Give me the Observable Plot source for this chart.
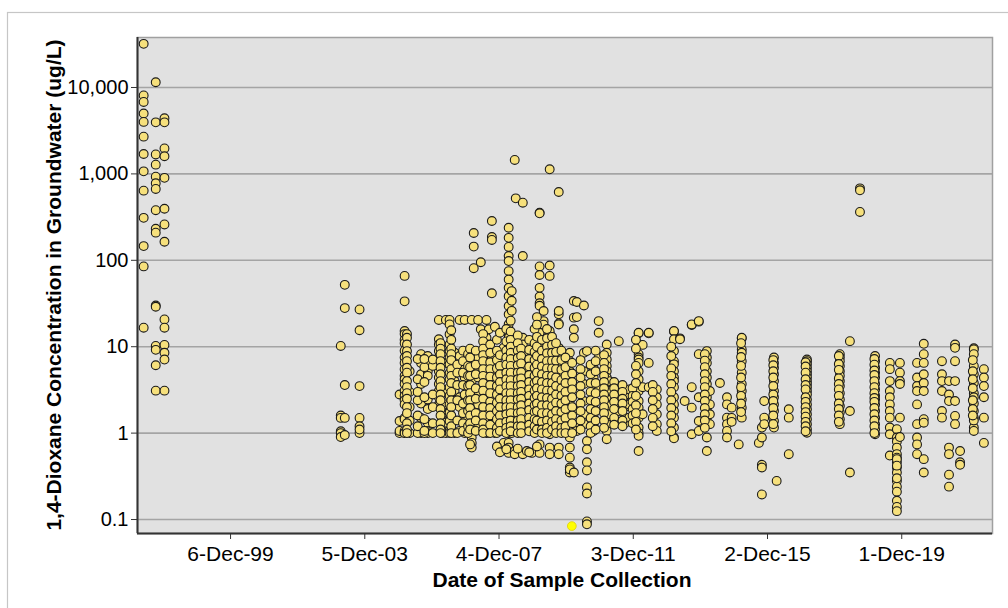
<!DOCTYPE html>
<html>
<head>
<meta charset="utf-8">
<script src="https://cdn.jsdelivr.net/npm/d3@7"></script>
<script src="https://cdn.jsdelivr.net/npm/@observablehq/plot@0.6"></script>
<style>
  html, body { margin: 0; padding: 0; background: #ffffff; }
  #chart { width: 1008px; height: 608px; }
</style>
</head>
<body>
<div id="chart"></div>
<script>
// ---- Data ----
// Sampling events as decimal years; each has a list of 1,4-dioxane concentrations (ug/L)
const sampleYears = [
  1997.34, 1997.70, 1997.96,
  2003.21, 2003.33, 2003.77,
  2004.96, 2005.11, 2005.26, 2005.60, 2005.80,
  2006.13, 2006.22, 2006.34, 2006.45, 2006.60, 2006.75, 2006.90,
  2007.11, 2007.17, 2007.30, 2007.38, 2007.55, 2007.62, 2007.71, 2007.80,
  2008.06, 2008.21, 2008.30, 2008.39, 2008.42, 2008.63, 2008.75, 2008.90,
  2009.13, 2009.25, 2009.43, 2009.70,
  2010.03, 2010.15, 2010.24, 2010.45, 2010.54, 2010.74, 2010.89,
  2011.13, 2011.20, 2011.49, 2011.67, 2011.80,
  2012.08, 2012.20, 2012.38, 2012.62,
  2013.13, 2013.31, 2013.45, 2013.66, 2013.87,
  2014.11, 2014.20, 2014.50, 2014.71, 2014.85,
  2015.06, 2015.15, 2015.66, 2015.75, 2015.82,
  2016.11, 2016.19, 2016.55,
  2017.09, 2018.07, 2018.37, 2018.67,
  2019.12, 2019.56, 2019.77, 2019.86,
  2020.37, 2020.57, 2021.11, 2021.32, 2021.50, 2021.65, 2022.06, 2022.36,
  // additional overlapping sampling rounds in the dense period
  2005.18, 2005.50, 2005.70, 2005.95, 2006.18, 2006.50, 2006.68, 2006.85,
  2007.00, 2007.06, 2007.23, 2007.45, 2007.66, 2007.86, 2007.95,
  2008.14, 2008.27, 2008.48, 2008.58, 2008.82, 2008.98,
  2009.05, 2009.20, 2009.35, 2009.50, 2009.62, 2009.78, 2009.90,
  2010.10, 2010.35, 2010.65, 2010.80,
  2011.05, 2011.35, 2011.60, 2011.90, 2012.00, 2012.50, 2013.05, 2014.05,
  2015.13, 2016.09, 2017.05, 2018.04, 2019.10, 2022.03
];
const concentrations = [
  [32000, 8100, 6800, 5000, 4000, 2700, 1700, 1070, 640, 310, 146, 85, 16.6],
  [11500, 3950, 1680, 1280, 930, 780, 670, 380, 232, 209, 30, 29, 10.2, 9.2, 6.1, 3.1],
  [4400, 3950, 1970, 1600, 900, 395, 260, 164, 20.7, 16.6, 10.5, 8.5, 7.1, 3.1],
  [10.2, 1.6, 1.5, 1.05, 1.0, 0.9],
  [52, 28, 3.6, 1.5, 0.95],
  [27, 15.5, 3.5, 1.5, 1.2, 1.0, 1.1],
  [1.0, 1.38, 2.8, 1.06],
  [66, 33.5, 15.2, 14, 12, 11, 9, 7.5, 6.5, 5.5, 4.6, 4.2, 3.7, 3.1, 2.7, 2.4, 2.15, 1.5, 1.45, 1.06, 1.0, 1.0],
  [1.0, 1.4, 5.2, 3.0, 2.0],
  [8.2, 6.5, 4.8, 3.7, 2.2, 1.5, 1.06, 1.0],
  [7.8, 6.5, 5.2, 4.6, 2.45, 1.9, 1.32, 1.05, 1.0],
  [20.4, 12.2, 10.6, 8.9, 7.5, 6.25, 5.2, 4.4, 3.7, 3.07, 2.6, 2.15, 2.06],
  [1.51, 1.06, 1.65, 2.0, 1.0],
  [20.4, 6.5, 3.07, 2.15, 1.0, 1.32],
  [20.4, 18.1, 13.9, 10.6, 8.9, 7.5, 6.25, 4.95, 4.2, 3.4, 2.7, 2.15, 1.73, 1.38, 1.06, 1.0],
  [4.0, 3.07, 1.0, 8.5],
  [20.4, 7.8, 5.7, 2.6, 2.0, 1.06],
  [5.7, 4.4, 2.8, 1.51, 1.0, 20.4],
  [20.4, 8.9, 6.8, 5.2, 4.0, 3.07, 2.6, 2.15, 1.8, 1.51, 1.06, 0.89, 0.77, 0.68],
  [207, 144, 81],
  [7.5, 5.7, 4.4, 3.07, 2.15, 1.27, 20.4],
  [95, 15.9],
  [20.4, 12.7, 10.6, 8.9, 7.5, 6.0, 5.0, 4.2, 3.4, 2.7, 2.15, 1.73, 1.38, 1.06, 1.0],
  [15.9, 1.0],
  [285, 186, 172, 41.5, 7.5, 5.2, 3.7, 2.6, 1.8, 1.06],
  [17, 1.0, 3.07],
  [9.7, 4.8, 3.07, 1.51, 1.06, 0.77],
  [238, 182, 143, 112, 98, 75, 60, 48, 38.5, 29.6, 23.7, 18.2, 14.3, 12.7, 11, 9.5, 8.2, 7.1, 6.1, 5.2, 4.5, 3.8, 3.3, 2.8, 2.45, 2.1, 1.8, 1.55, 1.3, 1.1, 1.0, 0.77, 0.68, 0.59],
  [44, 34, 26, 1.0, 4.0],
  [1450, 8.2, 4.4, 2.35, 1.06, 0.62, 0.57],
  [521],
  [464, 112, 12.7, 10.6, 8.2, 6.5, 5.2, 4.2, 3.4, 2.9, 2.35, 1.89, 1.38, 1.06, 0.57],
  [8.9, 5.7, 3.7, 2.15, 1.16, 0.62],
  [1.06, 0.59, 3.0],
  [356, 350, 85, 67.6, 48, 38, 31.8, 29.8, 14.3, 14.5, 11.6, 9.7, 8.2, 6.8, 5.5, 4.4, 3.7, 3.07, 2.6, 2.06, 1.73, 1.51, 1.27, 0.74, 0.59],
  [19.8, 18, 25.9],
  [1130, 87, 66, 14.3, 15.2, 11.6, 9.3, 7.5, 6.25, 5.2, 4.0, 3.4, 2.8, 2.35, 1.89, 1.51, 1.16, 0.97, 0.68, 0.57],
  [617, 23.7, 18.6, 25.9, 18.1, 9.7, 7.5, 5.7, 4.4, 3.07, 2.6, 1.97, 1.38, 1.06, 0.68, 0.57],
  [8.5, 6.8, 5.2, 4.4, 3.7, 3.07, 2.35, 1.8, 1.51, 1.27, 0.89, 0.68, 0.52, 0.40, 0.35, 0.38],
  [15.9, 12.7, 33.8, 21.7, 1.8, 1.16, 0.35],
  [32.9, 22, 1.16, 1.06],
  [30, 8.5, 5.2, 3.7, 2.35, 1.65, 1.27],
  [8.9, 0.81, 0.65, 0.46, 0.37, 0.235, 0.2, 0.095, 0.088],
  [5.7, 4.4, 3.07, 2.15, 1.65, 1.27, 1.06],
  [19.8, 14.5, 7.5, 3.4],
  [10.6, 8.5, 7.1, 6.0, 5.2, 4.4, 3.7, 3.07, 2.6, 2.15, 1.8, 1.51, 1.27, 1.06, 0.85],
  [4.0, 3.07, 2.06, 1.65],
  [11.6, 3.4, 3.07, 2.6, 2.15, 1.8],
  [3.2, 2.7, 2.0, 1.5, 1.3],
  [2.8, 2.15, 1.51, 3.2],
  [14.3, 14.5, 10.6, 8.2, 7.5, 7.1, 6.5, 5.2, 4.2, 3.4, 3.07, 2.35, 1.97, 1.51, 1.16, 1.0, 0.93, 0.62],
  [3.4, 1.65, 10.5],
  [14.3, 14.5, 6.5, 3.4],
  [3.2, 2.6, 2.15, 1.65, 1.27, 1.06],
  [15, 15.2, 12.2, 8.9, 6.8, 6.25, 5.2, 4.4, 4.0, 3.4, 2.6, 2.15, 1.8, 1.51, 1.16, 0.89, 0.87],
  [12.5, 12.2],
  [2.35],
  [17.8, 18.1, 3.4, 1.97, 0.97],
  [19.5, 19.8, 8.2, 2.6, 1.38, 1.06],
  [8.9, 7.5, 6.5, 5.2, 4.4, 3.7, 3.07, 2.6, 2.15, 1.8, 1.51, 1.27, 0.89, 0.62],
  [3.07, 2.15, 1.65, 1.27],
  [3.8],
  [2.6, 2.15, 1.51, 1.27, 1.06, 0.89],
  [1.97, 1.5, 1.35],
  [0.74],
  [12.5, 12.7, 9.3, 8.5, 6.8, 5.0, 3.7, 3.07, 2.45, 1.97, 1.51],
  [0.77],
  [1.16, 0.89, 0.43, 0.40, 0.195],
  [2.35, 1.51, 1.27],
  [7.5, 6.5, 5.7, 4.8, 4.0, 3.07, 2.6, 2.15, 1.8, 1.38, 1.16],
  [0.28],
  [1.89, 1.51, 0.57],
  [7.1, 6.8, 6.25, 5.7, 5.2, 4.8, 4.4, 4.0, 3.7, 3.4, 3.07, 2.8, 2.45, 2.15, 1.89, 1.65, 1.45, 1.27, 1.11, 1.01],
  [8.2, 7.5, 6.8, 6.0, 5.2, 4.6, 4.0, 3.5, 2.9, 2.45, 2.06, 1.73, 1.45, 1.27],
  [11.6, 1.8, 0.35],
  [680, 646, 363],
  [7.8, 6.8, 5.7, 5.0, 4.4, 3.7, 3.2, 2.7, 2.45, 2.15, 1.8, 1.51, 1.27, 1.11, 0.97],
  [6.5, 5.5, 4.0, 3.07, 2.6, 2.15, 1.8, 1.51, 1.16, 0.97, 0.55],
  [1.11, 0.89, 0.8, 0.68, 0.57, 0.52, 0.46, 0.40, 0.35, 0.28, 0.24, 0.21, 0.165, 0.14, 0.125, 0.5, 0.42, 0.3],
  [6.5, 5.0, 4.0, 3.7, 1.51, 0.9],
  [6.5, 4.4, 3.5, 3.07, 2.15, 1.27, 0.89, 0.74, 0.57],
  [10.8, 8.2, 6.5, 4.8, 3.8, 3.07, 1.45, 1.32, 0.50, 0.35],
  [6.8, 4.8, 4.0, 3.07, 1.8, 1.51],
  [4.0, 2.8, 2.35, 0.68, 0.57, 0.33, 0.24],
  [10.6, 9.7, 6.8, 4.0, 2.35, 1.58, 1.27],
  [0.62, 0.46, 0.43],
  [9.6, 9.3, 8.2, 6.0, 4.8, 3.8, 2.9, 2.2, 1.8, 1.51, 1.16, 1.06, 2.6, 1.4],
  [5.5, 4.4, 3.5, 2.6, 1.51, 0.77],
  // additional overlapping sampling rounds
  [14, 12.7, 10.6, 8.9, 7.8, 6.8, 5.7, 5.0, 4.0, 3.4, 2.9, 2.5, 2.0, 1.7, 1.3, 1.1, 1.0],
  [1.0, 1.2, 1.6, 2.4, 3.0, 4.2, 7.2],
  [1.0, 1.06, 1.45, 2.6, 3.9, 5.8, 7.2],
  [1.0, 1.3, 2.0, 2.8, 6.0, 7.1],
  [11, 9.5, 8.2, 6.8, 5.7, 4.8, 4.0, 3.4, 2.8, 2.4, 1.9, 1.6, 1.3, 1.1, 1.0],
  [15.5, 12, 9.5, 8.2, 7.0, 5.5, 4.6, 3.8, 3.0, 2.4, 2.0, 1.6, 1.2, 1.0],
  [6.2, 5.0, 3.6, 2.4, 1.4, 1.0],
  [9.0, 6.8, 5.0, 3.6, 2.2, 1.7, 1.3, 1.06],
  [8.2, 6.0, 4.6, 3.5, 2.4, 1.8, 1.2, 1.0],
  [9.5, 7.5, 5.8, 4.6, 3.6, 2.9, 2.4, 1.95, 1.6, 1.3, 1.1, 0.74],
  [9, 6.2, 4.8, 3.3, 2.5, 1.7, 1.4, 1.06],
  [14, 11.5, 9.5, 8, 6.8, 5.5, 4.6, 3.8, 3.1, 2.5, 2.0, 1.6, 1.3, 1.1, 1.0],
  [10.6, 8.5, 6.6, 5.5, 4.5, 3.6, 2.9, 2.3, 1.95, 1.6, 1.25, 1.0],
  [12, 9.0, 7.0, 5.6, 4.4, 3.5, 2.8, 2.25, 1.8, 1.45, 1.15, 1.0, 0.7],
  [14.5, 8, 6, 4.8, 3.9, 3.2, 2.5, 2.0, 1.6, 1.3, 1.06, 0.6],
  [16, 11.5, 9, 7.5, 6.2, 5, 4.2, 3.5, 2.9, 2.4, 2.0, 1.65, 1.35, 1.15, 1.0, 0.65],
  [20, 15, 12, 10, 8.5, 7.2, 6.0, 5.0, 4.1, 3.5, 2.9, 2.4, 2.0, 1.7, 1.4, 1.2, 1.05],
  [13.5, 11, 9, 7.4, 6.1, 5.0, 4.2, 3.5, 2.9, 2.45, 2.0, 1.7, 1.4, 1.2, 1.0, 0.66],
  [9.5, 7.8, 6.4, 5.1, 4.3, 3.6, 3.0, 2.5, 2.1, 1.75, 1.45, 1.2, 1.0],
  [12, 9.2, 7.2, 5.9, 4.7, 3.9, 3.2, 2.7, 2.2, 1.85, 1.5, 1.25, 1.05, 0.6],
  [16, 11, 8.7, 7.0, 5.7, 4.6, 3.8, 3.1, 2.55, 2.1, 1.75, 1.45, 1.2, 1.0],
  [22, 18, 13, 10, 7.8, 6.2, 5.0, 4.0, 3.3, 2.7, 2.2, 1.8, 1.4, 1.1, 0.7],
  [12, 9, 7.2, 5.9, 4.8, 3.9, 3.2, 2.6, 2.1, 1.7, 1.35, 1.1, 1.0],
  [16, 12.5, 10, 8.4, 6.8, 5.6, 4.6, 3.8, 3.1, 2.55, 2.1, 1.7, 1.4, 1.15, 1.0],
  [13, 10.5, 8.5, 6.9, 5.6, 4.6, 3.8, 3.1, 2.5, 2.05, 1.65, 1.35, 1.1],
  [11, 8.7, 6.9, 5.5, 4.4, 3.5, 2.8, 2.25, 1.8, 1.45, 1.2, 1.0],
  [9, 7.0, 5.4, 4.1, 3.3, 2.7, 2.2, 1.75, 1.4, 1.15, 1.0],
  [7.5, 5.8, 4.6, 3.8, 3.0, 2.4, 1.9, 1.5, 1.2, 1.0],
  [6.5, 4.9, 3.9, 3.2, 2.6, 2.0, 1.6, 1.3, 1.0],
  [7.0, 5.5, 4.4, 3.5, 2.8, 2.2, 1.8, 1.4, 1.1],
  [6.2, 4.8, 3.8, 3.0, 2.4, 1.9, 1.5, 1.2, 1.0],
  [9.0, 6.8, 5.2, 3.8, 2.9, 2.3, 1.8, 1.4, 1.1],
  [8, 6.5, 5.5, 4.6, 3.9, 3.3, 2.8, 2.4, 2.0, 1.7, 1.4, 1.15],
  [3.9, 3.3, 2.8, 2.3, 1.9, 1.5, 1.25],
  [3.6, 3.0, 2.5, 2.2, 1.8, 1.4, 1.2],
  [3.3, 2.7, 2.3, 1.9, 1.6, 1.3],
  [12, 9.5, 6, 4.8, 3.8, 2.7, 2.1, 1.7, 1.35, 1.1],
  [3.6, 3.0, 2.4, 1.9, 1.5, 1.2],
  [10, 7.8, 5.6, 4.6, 3.7, 3.0, 2.4, 1.95, 1.6, 1.3, 1.05],
  [8.2, 6.9, 5.8, 4.8, 4.0, 3.4, 2.8, 2.35, 1.95, 1.65, 1.4, 1.15],
  [11, 7.6, 6.0, 4.4, 3.4, 2.7, 2.2, 1.75],
  [7.0, 6.1, 5.2, 4.4, 3.5, 2.8, 2.35, 1.95, 1.6, 1.27],
  [6.6, 5.9, 5.0, 4.2, 3.6, 3.2, 2.6, 2.3, 2.0, 1.75, 1.55, 1.35, 1.2, 1.05],
  [7.8, 6.3, 5.4, 4.3, 3.7, 3.2, 2.7, 2.2, 1.9, 1.6, 1.35],
  [7.2, 6.2, 5.3, 4.7, 4.0, 3.4, 2.9, 2.55, 2.3, 1.95, 1.65, 1.4, 1.2, 1.0],
  [7.0, 5.2, 4.2, 3.3, 2.4, 1.9, 1.6]
];
// The single highlighted (bright yellow) sample
const highlightYears = [2010.09];
const highlightValues = [0.084];

// Axis ticks
const yTickValues = [0.1, 1, 10, 100, 1000, 10000];
const xTickDates = ["1999-12-06", "2003-12-05", "2007-12-04", "2011-12-03", "2015-12-02", "2019-12-01"];

const xTitle = "Date of Sample Collection";
const yTitle = "1,4-Dioxane Concentration in Groundwater (ug/L)";

// ---- Build table ----
function yearToDate(y) {
  const yr = Math.floor(y);
  const s = Date.UTC(yr, 0, 1), e = Date.UTC(yr + 1, 0, 1);
  return new Date(s + (y - yr) * (e - s));
}
const samples = [];
sampleYears.forEach((yr, i) => {
  concentrations[i].forEach(v => samples.push({date: yearToDate(yr), value: v}));
});
const highlight = highlightYears.map((yr, i) => ({date: yearToDate(yr), value: highlightValues[i]}));

const xDomain = [new Date("1997-02-27"), new Date("2022-08-14")];
const yDomain = [0.0689, 37900];
const font = "'Liberation Sans', Arial, Helvetica, sans-serif";

const chart = Plot.plot({
  width: 1008,
  height: 608,
  marginLeft: 137,
  marginRight: 16,
  marginTop: 37,
  marginBottom: 75,
  style: {fontFamily: font, fontSize: "20px", color: "#000", background: "transparent", overflow: "visible"},
  x: {type: "utc", domain: xDomain},
  y: {type: "log", domain: yDomain},
  marks: [
    Plot.frame({fill: "#e1e1e1", stroke: null}),
    Plot.ruleY(yTickValues, {stroke: "#a4a4a4", strokeWidth: 1.6}),
    Plot.frame({stroke: "#a0a0a0", strokeWidth: 1.5}),
    Plot.ruleX([xDomain[0]], {stroke: "#333", strokeWidth: 2}),
    Plot.ruleY([yDomain[0]], {stroke: "#333", strokeWidth: 2}),
    Plot.axisY({ticks: yTickValues, tickFormat: d3.format(","), tickSize: 6, tickPadding: 3, fontSize: 20, stroke: "#333", label: null}),
    Plot.axisX({ticks: xTickDates.map(d => new Date(d)), tickFormat: d3.utcFormat("%-d-%b-%y"), tickSize: 6, tickPadding: 7, fontSize: 21, stroke: "#333", label: null}),
    Plot.dot(samples, {x: "date", y: "value", r: 4.4, fill: "#f6e07c", stroke: "#1a1a1a", strokeWidth: 1.1}),
    Plot.dot(highlight, {x: "date", y: "value", r: 4.4, fill: "#ffff00", stroke: "#e0d000", strokeWidth: 0.8})
  ]
});

const svg = d3.select(chart);
// outer light border
svg.insert("rect", ":first-child")
  .attr("x", 7.5).attr("y", 12.5).attr("width", 1010).attr("height", 610)
  .attr("fill", "#fff").attr("stroke", "#c6c6c6").attr("stroke-width", 1.2);
// axis titles
svg.append("text")
  .attr("x", 562).attr("y", 587)
  .attr("text-anchor", "middle")
  .attr("font-family", font).attr("font-weight", "bold").attr("font-size", 21)
  .attr("fill", "#000")
  .text(xTitle);
svg.append("text")
  .attr("transform", "translate(61,285) rotate(-90)")
  .attr("text-anchor", "middle")
  .attr("font-family", font).attr("font-weight", "bold").attr("font-size", 21)
  .attr("fill", "#000")
  .text(yTitle);

document.getElementById("chart").appendChild(chart);
</script>
</body>
</html>
